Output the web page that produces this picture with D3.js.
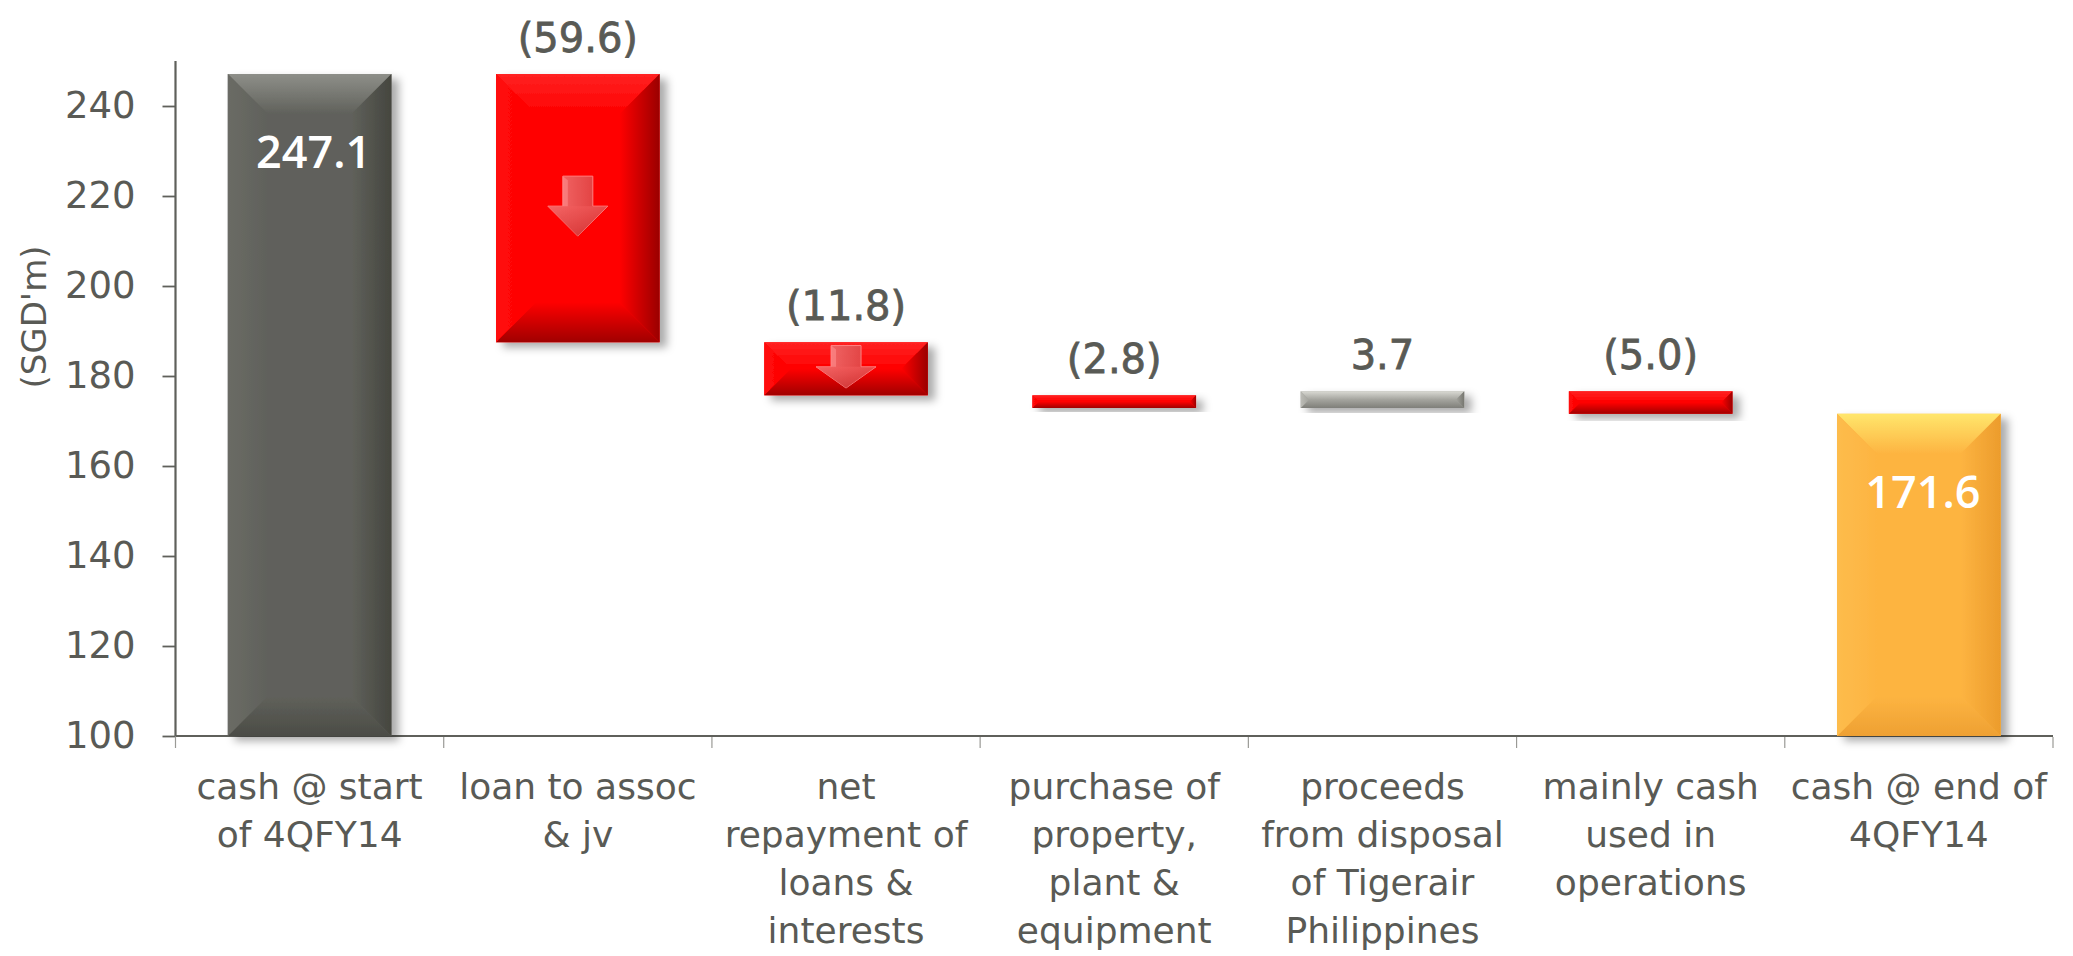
<!DOCTYPE html>
<html>
<head>
<meta charset="utf-8">
<script src="https://cdn.jsdelivr.net/npm/d3@7"></script>
<style>
  html, body { margin: 0; padding: 0; background: #ffffff; }
  svg { display: block; }
</style>
</head>
<body>
<div id="chart"></div>
<script>
// ---- data ----
const categories = [
  "cash @ start of 4QFY14",
  "loan to assoc & jv",
  "net repayment of loans & interests",
  "purchase of property, plant & equipment",
  "proceeds from disposal of Tigerair Philippines",
  "mainly cash used in operations",
  "cash @ end of 4QFY14"
];
const categoryLines = [
  ["cash @ start", "of 4QFY14"],
  ["loan to assoc", "& jv"],
  ["net", "repayment of", "loans &", "interests"],
  ["purchase of", "property,", "plant &", "equipment"],
  ["proceeds", "from disposal", "of Tigerair", "Philippines"],
  ["mainly cash", "used in", "operations"],
  ["cash @ end of", "4QFY14"]
];
const openingCash = 247.1;
const movements = [-59.6, -11.8, -2.8, 3.7, -5.0];
const closingCash = 171.6;
const yTicks = [100, 120, 140, 160, 180, 200, 220, 240];
const yDomain = [100, 250];

// ---- layout ----
const W = 2073, H = 956;
const plotLeft = 175.5, plotRight = 2053, plotTop = 61, plotBottom = 736;
const textColor = "#595a55";
const axisColor = "#5f605b";

const svg = d3.select("#chart").append("svg")
  .attr("width", W).attr("height", H)
  .attr("viewBox", `0 0 ${W} ${H}`);

const x = d3.scaleBand().domain(categories).range([plotLeft, plotRight]).padding(0);
const y = d3.scaleLinear().domain(yDomain).range([plotBottom, plotTop]);

// waterfall segments built from the data
const bars = [];
bars.push({ cat: categories[0], from: yDomain[0], to: openingCash, kind: "start", label: d3.format(".1f")(openingCash), inside: true });
let running = openingCash;
movements.forEach((m, i) => {
  const next = +(running + m).toFixed(1);
  bars.push({
    cat: categories[i + 1],
    from: running, to: next,
    kind: m < 0 ? "down" : "up",
    label: m < 0 ? `(${d3.format(".1f")(-m)})` : d3.format(".1f")(m),
    inside: false
  });
  running = next;
});
bars.push({ cat: categories[6], from: yDomain[0], to: closingCash, kind: "end", label: d3.format(".1f")(closingCash), inside: true });

// bevelled face colours for each bar kind
const palette = {
  start: { base: "#60615b", top: "#8e8f89", bottom: "#4b4c46", left: "#6a6b65", right: "#45463f" },
  down:  { base: "#ff0000", top: "#ff2222", bottom: "#a00000", left: "#ff0a0a", right: "#9a0000" },
  up:    { base: "#a4a49e", top: "#d9d9d3", bottom: "#7f7f79", left: "#bcbcb6", right: "#76766f" },
  end:   { base: "#fdb441", top: "#ffe66c", bottom: "#eea033", left: "#fdbc4c", right: "#ec9c2c" }
};

const defs = svg.append("defs");
const shadow = defs.append("filter").attr("id", "barShadow")
  .attr("x", "-20%").attr("y", "-20%").attr("width", "150%").attr("height", "150%");
shadow.append("feDropShadow")
  .attr("dx", 7).attr("dy", 5).attr("stdDeviation", 4)
  .attr("flood-color", "#000").attr("flood-opacity", 0.33);

function grad(id, x1, y1, x2, y2, c1, c2) {
  const g = defs.append("linearGradient").attr("id", id)
    .attr("x1", x1).attr("y1", y1).attr("x2", x2).attr("y2", y2);
  g.append("stop").attr("offset", "0%").attr("stop-color", c1);
  g.append("stop").attr("offset", "100%").attr("stop-color", c2);
}
Object.entries(palette).forEach(([k, p]) => {
  grad(`${k}-top`, 0, 0, 0, 1, p.top, p.base);
  grad(`${k}-bottom`, 0, 0, 0, 1, p.base, p.bottom);
  grad(`${k}-left`, 0, 0, 1, 0, p.left, p.base);
  grad(`${k}-right`, 0, 0, 1, 0, p.base, p.right);
});
grad("arrowFill", 0, 0, 1, 0, "#f77a7a", "#d93b3b");
grad("arrowHead", 0, 0, 0, 1, "#f26565", "#c92c2c");

// ---- axes ----
const yAxis = d3.axisLeft(y).tickValues(yTicks).tickSize(13).tickPadding(27).tickFormat(d3.format("d"));
const gy = svg.append("g").attr("transform", `translate(${plotLeft},0)`).call(yAxis);
gy.select(".domain").attr("stroke", axisColor).attr("stroke-width", 2.2)
  .attr("d", `M0,${plotBottom}V${plotTop}`);
gy.selectAll(".tick line").attr("stroke", axisColor).attr("stroke-width", 1.8);
gy.selectAll(".tick text")
  .attr("fill", textColor)
  .style("font-family", "'DejaVu Sans', sans-serif")
  .style("font-size", "37px");

const xAxis = d3.axisBottom(x).tickSize(0).tickFormat("");
const gx = svg.append("g").attr("transform", `translate(0,${plotBottom})`).call(xAxis);
gx.select(".domain").attr("stroke", axisColor).attr("stroke-width", 2.2)
  .attr("d", `M${plotLeft},0H${plotRight}`);
gx.selectAll(".tick").remove();
// category separators
const bounds = categories.map(c => x(c)).concat([plotRight]);
gx.selectAll("line.sep").data(bounds).enter().append("line")
  .attr("class", "sep")
  .attr("x1", d => d).attr("x2", d => d)
  .attr("y1", 1).attr("y2", 12)
  .attr("stroke", "#9a9a96").attr("stroke-width", 1.2);

// category labels
const catG = svg.append("g")
  .style("font-family", "'DejaVu Sans', sans-serif")
  .style("font-size", "36px")
  .attr("fill", textColor)
  .attr("text-anchor", "middle");
categories.forEach((c, i) => {
  const cx = x(c) + x.bandwidth() / 2;
  const t = catG.append("text").attr("x", cx).attr("y", 799);
  categoryLines[i].forEach((line, j) => {
    t.append("tspan")
      .attr("x", cx)
      .attr("dy", j === 0 ? 0 : 48)
      .text(line);
  });
});

// y-axis title
svg.append("text")
  .attr("transform", `translate(34,317) rotate(-90)`)
  .attr("text-anchor", "middle")
  .attr("dominant-baseline", "central")
  .attr("fill", textColor)
  .style("font-family", "'DejaVu Sans', sans-serif")
  .style("font-size", "34px")
  .text("(SGD'm)");

// ---- bars ----
const barRatio = 0.61;
const barG = svg.append("g");
const poly = pts => pts.map(p => p.join(",")).join(" ");
bars.forEach(b => {
  const w = x.bandwidth() * barRatio;
  const x0 = x(b.cat) + (x.bandwidth() - w) / 2;
  const x1 = x0 + w;
  const y0 = y(Math.max(b.from, b.to));
  const y1 = y(Math.min(b.from, b.to));
  const h = y1 - y0;
  const bv = Math.min(40, h / 2, w / 2);
  const g = barG.append("g").attr("filter", "url(#barShadow)");
  const k = b.kind;
  g.append("rect").attr("x", x0).attr("y", y0).attr("width", w).attr("height", h)
    .attr("fill", palette[k].base);
  g.append("polygon").attr("points", poly([[x0, y0], [x1, y0], [x1 - bv, y0 + bv], [x0 + bv, y0 + bv]]))
    .attr("fill", `url(#${k}-top)`);
  g.append("polygon").attr("points", poly([[x0, y1], [x1, y1], [x1 - bv, y1 - bv], [x0 + bv, y1 - bv]]))
    .attr("fill", `url(#${k}-bottom)`);
  g.append("polygon").attr("points", poly([[x0, y0], [x0 + bv, y0 + bv], [x0 + bv, y1 - bv], [x0, y1]]))
    .attr("fill", `url(#${k}-left)`);
  g.append("polygon").attr("points", poly([[x1, y0], [x1 - bv, y0 + bv], [x1 - bv, y1 - bv], [x1, y1]]))
    .attr("fill", `url(#${k}-right)`);
  b.geom = { x0, x1, y0, y1, h, cx: (x0 + x1) / 2 };

  // downward arrow on the larger decreases
  if (k === "down" && h > 40) {
    const ah = Math.min(60, h * 0.8);
    const ay = y0 + (h - ah) / 2 - 2;
    const cx = (x0 + x1) / 2;
    const sw = 15, hw = 30;
    const ag = barG.append("g").attr("opacity", 0.92);
    ag.append("polygon")
      .attr("points", poly([[cx - sw, ay], [cx + sw, ay], [cx + sw, ay + ah / 2], [cx + hw, ay + ah / 2],
        [cx, ay + ah], [cx - hw, ay + ah / 2], [cx - sw, ay + ah / 2]]))
      .attr("fill", "url(#arrowFill)")
      .attr("stroke", "#ff8c8c").attr("stroke-width", 1);
    ag.append("polygon")
      .attr("points", poly([[cx - hw, ay + ah / 2], [cx + hw, ay + ah / 2], [cx, ay + ah]]))
      .attr("fill", "url(#arrowHead)").attr("opacity", 0.55);
    ag.append("polygon")
      .attr("points", poly([[cx - sw, ay], [cx - sw + 5, ay + 4], [cx - sw + 5, ay + ah / 2], [cx - sw, ay + ah / 2]]))
      .attr("fill", "#ff9a9a").attr("opacity", 0.6);
  }
});

// ---- value labels ----
const labG = svg.append("g").attr("text-anchor", "middle");
bars.forEach(b => {
  const gm = b.geom;
  if (b.inside) {
    labG.append("text")
      .attr("x", gm.cx + 4).attr("y", gm.y0 + 94)
      .attr("fill", "#ffffff")
      .style("font-family", "'Open Sans', sans-serif")
      .style("font-weight", 600)
      .style("font-size", "45px")
      .text(b.label);
  } else {
    labG.append("text")
      .attr("x", gm.cx).attr("y", gm.y0 - 22)
      .attr("fill", textColor)
      .attr("stroke", textColor).attr("stroke-width", 0.8)
      .style("font-family", "'DejaVu Sans', sans-serif")
      .style("font-size", "40px")
      .text(b.label);
  }
});
</script>
</body>
</html>
